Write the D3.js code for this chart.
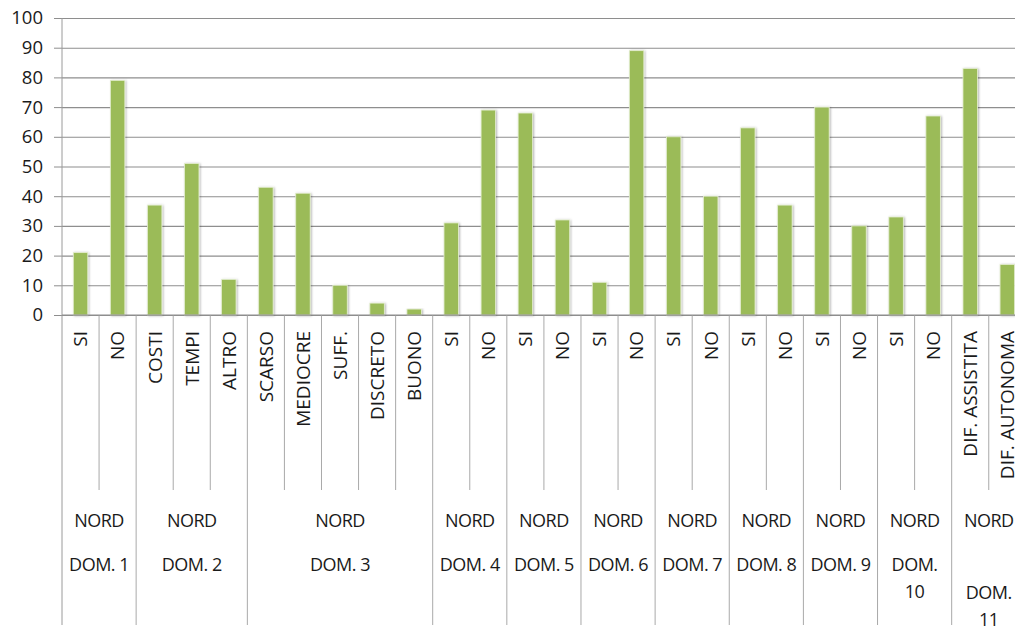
<!DOCTYPE html>
<html>
<head>
<meta charset="utf-8">
<script src="https://cdn.jsdelivr.net/npm/d3@7"></script>
<style>
  html, body { margin: 0; padding: 0; background: #ffffff; }
  svg { display: block; }
  text { font-family: "Open Sans", "Liberation Sans", sans-serif; fill: #1a1a1a; }
</style>
</head>
<body>
<svg id="chart" width="1015" height="628"></svg>
<script>
// Survey answers per domain (percent)
const regionLabel = "NORD";
const groupLabels = ["DOM. 1", "DOM. 2", "DOM. 3", "DOM. 4", "DOM. 5", "DOM. 6",
                     "DOM. 7", "DOM. 8", "DOM. 9", "DOM. 10", "DOM. 11"];
const groupSizes = [2, 3, 5, 2, 2, 2, 2, 2, 2, 2, 2];
const categories = ["SI", "NO",
                    "COSTI", "TEMPI", "ALTRO",
                    "SCARSO", "MEDIOCRE", "SUFF.", "DISCRETO", "BUONO",
                    "SI", "NO", "SI", "NO", "SI", "NO", "SI", "NO",
                    "SI", "NO", "SI", "NO", "SI", "NO",
                    "DIF. ASSISTITA", "DIF. AUTONOMA"];
const values = [21, 79,
                37, 51, 12,
                43, 41, 10, 4, 2,
                31, 69, 68, 32, 11, 89, 60, 40,
                63, 37, 70, 30, 33, 67,
                83, 17];
const yTicks = [0, 10, 20, 30, 40, 50, 60, 70, 80, 90, 100];

const svg = d3.select("#chart");
const plotLeft = 62, plotTop = 18, plotBase = 315;
const step = 37.07;
const plotRight = plotLeft + categories.length * step;

const x = d3.scaleBand()
  .domain(d3.range(categories.length))
  .range([plotLeft, plotRight])
  .paddingInner(0).paddingOuter(0);

const y = d3.scaleLinear().domain([0, 100]).range([plotBase, plotTop]);

// bar shadow
const defs = svg.append("defs");
const f = defs.append("filter").attr("id", "barShadow")
  .attr("x", "-50%").attr("y", "-10%").attr("width", "200%").attr("height", "120%");
f.append("feDropShadow").attr("dx", 1).attr("dy", 0.5)
  .attr("stdDeviation", 1.2).attr("flood-color", "#000").attr("flood-opacity", 0.3);

// horizontal gridlines
svg.append("g")
  .attr("transform", `translate(${plotLeft},0)`)
  .call(d3.axisLeft(y).tickValues(yTicks).tickSize(-(plotRight - plotLeft)).tickFormat(""))
  .call(g => g.select(".domain").remove())
  .call(g => g.selectAll(".tick line").attr("stroke", "#8e8e8e").attr("stroke-width", 1.1));

// value axis with outer ticks and labels
svg.append("g")
  .attr("transform", `translate(${plotLeft},0)`)
  .call(d3.axisLeft(y).tickValues(yTicks).tickSize(8).tickPadding(11))
  .call(g => g.select(".domain").remove())
  .call(g => g.selectAll(".tick line").attr("stroke", "#8e8e8e"))
  .call(g => g.selectAll(".tick text")
    .attr("font-size", "18.5px")
    .attr("font-family", "'Open Sans', sans-serif")
    .attr("fill", "#1a1a1a"));

// vertical axis line, running down through the category label area
svg.append("line")
  .attr("x1", plotLeft).attr("x2", plotLeft)
  .attr("y1", plotTop).attr("y2", 625)
  .attr("stroke", "#9a9a9a").attr("stroke-width", 1);

// category and group separators
const groupStarts = [];
let acc = 0;
groupSizes.forEach(n => { groupStarts.push(acc); acc += n; });
const groupStartSet = new Set(groupStarts);

const sep = svg.append("g").attr("stroke", "#a9a9a9").attr("stroke-width", 1);
d3.range(1, categories.length + 1).forEach(i => {
  const xi = i < categories.length ? x(i) : plotRight;
  const isGroupEdge = groupStartSet.has(i) || i === categories.length;
  sep.append("line")
    .attr("x1", xi).attr("x2", xi)
    .attr("y1", plotBase).attr("y2", isGroupEdge ? 625 : 490);
});

// bars
const barW = x.bandwidth() * 0.39;
svg.append("g")
  .selectAll("rect")
  .data(values)
  .join("rect")
  .attr("x", (d, i) => x(i) + (x.bandwidth() - barW) / 2)
  .attr("y", d => y(d))
  .attr("width", barW)
  .attr("height", d => plotBase - y(d))
  .attr("fill", "#9bbb59")
  .attr("stroke", "#e4eed0")
  .attr("stroke-width", 0.8)
  .attr("filter", "url(#barShadow)");

// category axis line
svg.append("line")
  .attr("x1", plotLeft).attr("x2", plotRight)
  .attr("y1", plotBase).attr("y2", plotBase)
  .attr("stroke", "#8e8e8e").attr("stroke-width", 1.1);

// rotated category labels
svg.append("g")
  .selectAll("text")
  .data(categories)
  .join("text")
  .attr("transform", (d, i) => `translate(${x(i) + x.bandwidth() / 2},331) rotate(-90)`)
  .attr("text-anchor", "end")
  .attr("dy", "0.36em")
  .attr("font-size", "19px")
  .text(d => d);

// group labels (region + domain)
const gLab = svg.append("g")
  .attr("font-size", "18px")
  .attr("letter-spacing", "-0.5px")
  .attr("text-anchor", "middle");

const lineGap = 28;
groupLabels.forEach((lab, gi) => {
  const s = groupStarts[gi], n = groupSizes[gi];
  const x0 = x(s);
  const x1 = s + n < categories.length ? x(s + n) : plotRight;
  const cx = (x0 + x1) / 2;
  gLab.append("text").attr("x", cx).attr("y", 527).text(regionLabel);

  const t = gLab.append("text").attr("x", cx).attr("y", 571).text(lab);
  const w = t.node().getComputedTextLength();
  if (w > (x1 - x0) - 10) {
    // wrap "DOM. nn" onto two lines
    const parts = lab.split(" ");
    t.remove();
    const isLast = gi === groupLabels.length - 1;
    const y1 = isLast ? 571 + lineGap : 571;
    gLab.append("text").attr("x", cx).attr("y", y1).text(parts[0]);
    gLab.append("text").attr("x", cx).attr("y", y1 + lineGap - 1).text(parts.slice(1).join(" "));
  }
});
</script>
</body>
</html>
